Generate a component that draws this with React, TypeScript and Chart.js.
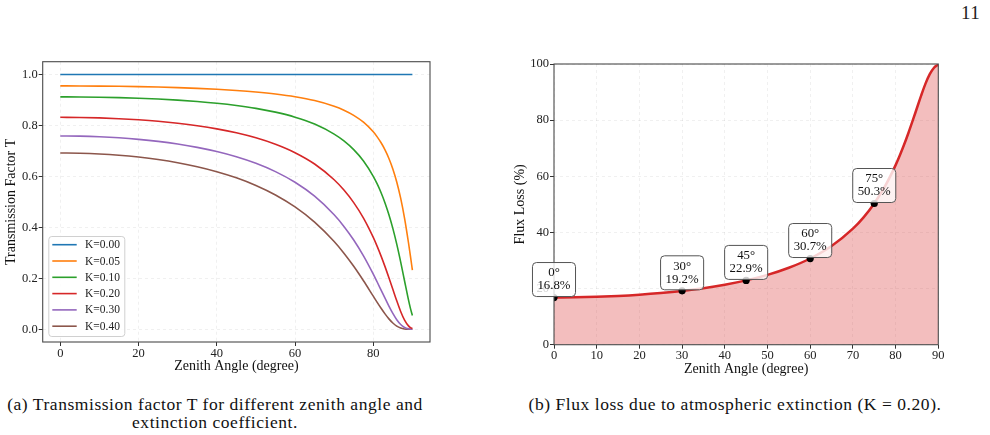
import React, { useEffect, useRef } from "react";
import { Chart, registerables } from "chart.js";

Chart.register(...registerables);

const FONT = '"Liberation Serif", "Times New Roman", Times, serif';

// Zenith angles (degrees) shared by every curve
const zenithDeg = [0, 5, 10, 15, 20, 25, 30, 35, 40, 45, 50, 55, 60, 65, 70, 72.5, 75, 77.5, 80, 81, 82, 83, 84, 85, 86, 87, 88, 89, 89.5, 90];

// Transmission factor T for each extinction coefficient K
const transK000 = [1, 1, 1, 1, 1, 1, 1, 1, 1, 1, 1, 1, 1, 1, 1, 1, 1, 1, 1, 1, 1, 1, 1, 1, 1, 1, 1, 1, 1, 1];
const transK005 = [0.955, 0.9548, 0.9543, 0.9535, 0.9522, 0.9505, 0.9482, 0.9454, 0.9417, 0.937, 0.931, 0.9231, 0.9124, 0.8974, 0.8752, 0.8597, 0.8396, 0.8126, 0.7748, 0.7551, 0.7319, 0.7041, 0.6704, 0.6292, 0.578, 0.5143, 0.4352, 0.3395, 0.2866, 0.2319];
const transK010 = [0.912, 0.9117, 0.9107, 0.9091, 0.9067, 0.9034, 0.8992, 0.8937, 0.8868, 0.878, 0.8668, 0.852, 0.8324, 0.8053, 0.7659, 0.7391, 0.7049, 0.6604, 0.6003, 0.5702, 0.5357, 0.4958, 0.4495, 0.3959, 0.3341, 0.2645, 0.1894, 0.1153, 0.0821, 0.0538];
const transK020 = [0.8318, 0.8312, 0.8294, 0.8264, 0.822, 0.8162, 0.8085, 0.7988, 0.7865, 0.771, 0.7513, 0.726, 0.6929, 0.6485, 0.5867, 0.5462, 0.4969, 0.4361, 0.3603, 0.3251, 0.287, 0.2458, 0.202, 0.1567, 0.1116, 0.0699, 0.0359, 0.0133, 0.0067, 0.0029];
const transK030 = [0.7586, 0.7578, 0.7554, 0.7513, 0.7453, 0.7373, 0.727, 0.7139, 0.6974, 0.6769, 0.6512, 0.6186, 0.5768, 0.5222, 0.4494, 0.4037, 0.3503, 0.288, 0.2163, 0.1854, 0.1537, 0.1219, 0.0908, 0.062, 0.0373, 0.0185, 0.0068, 0.0015, 0.0006, 0.0002];
const transK040 = [0.6918, 0.6909, 0.688, 0.683, 0.6757, 0.6661, 0.6537, 0.638, 0.6185, 0.5944, 0.5644, 0.527, 0.4801, 0.4205, 0.3442, 0.2984, 0.247, 0.1902, 0.1298, 0.1057, 0.0824, 0.0604, 0.0408, 0.0246, 0.0125, 0.0049, 0.0013, 0.0002, 0.0001, 0];

const kLabels = ["K=0.00", "K=0.05", "K=0.10", "K=0.20", "K=0.30", "K=0.40"];
const kColors = ["#1f77b4", "#ff7f0e", "#2ca02c", "#d62728", "#9467bd", "#8c564b"];

// Flux loss (%) for K = 0.20
const fluxLossK020 = [16.82, 16.88, 17.06, 17.36, 17.8, 18.39, 19.15, 20.12, 21.36, 22.91, 24.87, 27.4, 30.71, 35.15, 41.33, 45.38, 50.31, 56.39, 63.97, 67.49, 71.3, 75.42, 79.8, 84.33, 88.84, 93.01, 96.41, 98.67, 99.33, 99.71];

// Highlighted angles and their flux loss
const markerAngles = [0, 30, 45, 60, 75];
const markerLoss = [16.8, 19.2, 22.9, 30.7, 50.3];

// Axis ticks
const transXTicks = [0, 20, 40, 60, 80];
const transYTicks = [0, 0.2, 0.4, 0.6, 0.8, 1.0];
const lossXTicks = [0, 10, 20, 30, 40, 50, 60, 70, 80, 90];
const lossYTicks = [0, 20, 40, 60, 80, 100];

const tickFont = { family: FONT, size: 12.5 };
const titleFont = { family: FONT, size: 14 };
const gridOpts = { color: "rgba(0,0,0,0.08)", lineWidth: 0.8, tickColor: "#333", tickLength: 4, tickWidth: 1 };

// Four-sided axes frame
const framePlugin = {
  id: "frame",
  afterDatasetsDraw(chart: any) {
    const { ctx, chartArea } = chart;
    const { left, top, right, bottom } = chartArea;
    ctx.save();
    ctx.strokeStyle = "#4a4a4a";
    ctx.lineWidth = 1.1;
    ctx.strokeRect(left, top, right - left, bottom - top);
    ctx.restore();
  },
};

// Boxed legend in the lower-left corner of the plot
const legendBoxPlugin = {
  id: "legendBox",
  afterDatasetsDraw(chart: any) {
    const { ctx, chartArea } = chart;
    const sets = chart.data.datasets;
    const boxW = 76;
    const rowH = 16.3;
    const boxH = 100;
    const x0 = chartArea.left + 5.6;
    const y0 = chartArea.bottom - 6 - boxH;
    ctx.save();
    ctx.beginPath();
    ctx.roundRect(x0 + 0.5, y0 + 0.5, boxW, boxH, 3);
    ctx.fillStyle = "rgba(255,255,255,0.85)";
    ctx.fill();
    ctx.strokeStyle = "#d0d0d0";
    ctx.lineWidth = 1;
    ctx.stroke();
    ctx.font = `11.5px ${FONT}`;
    ctx.textBaseline = "middle";
    ctx.fillStyle = "#222";
    sets.forEach((ds: any, i: number) => {
      const cy = y0 + 8.7 + i * rowH;
      ctx.beginPath();
      ctx.strokeStyle = ds.borderColor;
      ctx.lineWidth = 1.6;
      ctx.moveTo(x0 + 4, cy);
      ctx.lineTo(x0 + 28.4, cy);
      ctx.stroke();
      ctx.fillText(ds.label, x0 + 36.7, cy + 0.5);
    });
    ctx.restore();
  },
};

// Labelled boxes above the highlighted points
const pointLabelPlugin = {
  id: "pointLabels",
  afterDatasetsDraw(chart: any) {
    const { ctx, scales } = chart;
    ctx.save();
    ctx.font = `12.8px ${FONT}`;
    markerAngles.forEach((a, i) => {
      const px = scales.x.getPixelForValue(a);
      const py = scales.y.getPixelForValue(markerLoss[i]);
      const l1 = `${a}°`;
      const l2 = `${markerLoss[i].toFixed(1)}%`;
      const w = Math.max(ctx.measureText(l1).width, ctx.measureText(l2).width) + 10;
      const h = 34;
      const bottom = py - 1;
      const top = bottom - h;
      ctx.beginPath();
      ctx.roundRect(px - w / 2, top, w, h, 4);
      ctx.fillStyle = "rgba(255,255,255,0.8)";
      ctx.fill();
      ctx.strokeStyle = "#555";
      ctx.lineWidth = 1;
      ctx.stroke();
      ctx.fillStyle = "#111";
      ctx.textAlign = "center";
      ctx.textBaseline = "middle";
      ctx.fillText(l1, px, top + 10.5);
      ctx.fillText(l2, px, top + 23.5);
    });
    ctx.restore();
  },
};

function TransmissionChart() {
  const ref = useRef<HTMLCanvasElement>(null);
  useEffect(() => {
    const series = [transK000, transK005, transK010, transK020, transK030, transK040];
    const chart = new Chart(ref.current as HTMLCanvasElement, {
      type: "line",
      data: {
        datasets: series.map((vals, k) => ({
          label: kLabels[k],
          data: zenithDeg.map((z, i) => ({ x: z, y: vals[i] })),
          borderColor: kColors[k],
          backgroundColor: kColors[k],
          borderWidth: 1.6,
          pointRadius: 0,
          cubicInterpolationMode: "monotone" as const,
          fill: false,
        })),
      },
      options: {
        animation: false,
        responsive: false,
        layout: { padding: { top: 11.7, right: 10, left: 0, bottom: 0 } },
        plugins: { legend: { display: false }, tooltip: { enabled: false } },
        scales: {
          x: {
            type: "linear",
            min: -4.5,
            max: 94.5,
            afterBuildTicks: (s: any) => {
              s.ticks = transXTicks.map((v) => ({ value: v }));
            },
            afterFit: (s: any) => {
              s.height = 38;
            },
            ticks: { color: "#222", font: tickFont, padding: 0, maxRotation: 0, autoSkip: false },
            grid: gridOpts,
            border: { display: false, dash: [3, 3] },
            title: { display: true, text: "Zenith Angle (degree)", color: "#111", font: titleFont, padding: { top: 0, bottom: 5 } },
          },
          y: {
            type: "linear",
            min: -0.05,
            max: 1.05,
            afterBuildTicks: (s: any) => {
              s.ticks = transYTicks.map((v) => ({ value: v }));
            },
            afterFit: (s: any) => {
              s.width = 42.7;
            },
            ticks: { color: "#222", font: tickFont, padding: 1, autoSkip: false, callback: (v: any) => Number(v).toFixed(1) },
            grid: gridOpts,
            border: { display: false, dash: [3, 3] },
            title: { display: true, text: "Transmission Factor T", color: "#111", font: titleFont, padding: { top: 3, bottom: 0 } },
          },
        },
      },
      plugins: [framePlugin, legendBoxPlugin],
    });
    return () => chart.destroy();
  }, []);
  return <canvas ref={ref} width={440} height={330} style={{ position: "absolute", left: 0, top: 50, width: 440, height: 330 }} />;
}

function FluxLossChart() {
  const ref = useRef<HTMLCanvasElement>(null);
  useEffect(() => {
    const chart = new Chart(ref.current as HTMLCanvasElement, {
      type: "line",
      data: {
        datasets: [
          {
            label: "Marked angles",
            data: markerAngles.map((a, i) => ({ x: a, y: markerLoss[i] })),
            showLine: false,
            pointRadius: 3.6,
            pointBorderWidth: 0,
            pointBackgroundColor: "#000",
            borderColor: "#000",
            clip: 0,
            order: 0,
          },
          {
            label: "Flux loss",
            data: zenithDeg.map((z, i) => ({ x: z, y: fluxLossK020[i] })),
            borderColor: "#d62728",
            backgroundColor: "rgba(214,39,40,0.3)",
            borderWidth: 2.5,
            pointRadius: 0,
            cubicInterpolationMode: "monotone" as const,
            fill: "origin",
            order: 1,
          },
        ],
      },
      options: {
        animation: false,
        responsive: false,
        layout: { padding: { top: 14, right: 11.7, left: 0, bottom: 0 } },
        plugins: { legend: { display: false }, tooltip: { enabled: false } },
        scales: {
          x: {
            type: "linear",
            min: 0,
            max: 90,
            afterBuildTicks: (s: any) => {
              s.ticks = lossXTicks.map((v) => ({ value: v }));
            },
            afterFit: (s: any) => {
              s.height = 35.3;
            },
            ticks: { color: "#222", font: tickFont, padding: 0, maxRotation: 0, autoSkip: false },
            grid: gridOpts,
            border: { display: false, dash: [3, 3] },
            title: { display: true, text: "Zenith Angle (degree)", color: "#111", font: titleFont, padding: { top: 0, bottom: 2.6 } },
          },
          y: {
            type: "linear",
            min: 0,
            max: 100,
            afterBuildTicks: (s: any) => {
              s.ticks = lossYTicks.map((v) => ({ value: v }));
            },
            afterFit: (s: any) => {
              s.width = 59;
            },
            ticks: { color: "#222", font: tickFont, padding: 1, autoSkip: false },
            grid: gridOpts,
            border: { display: false, dash: [3, 3] },
            title: { display: true, text: "Flux Loss (%)", color: "#111", font: titleFont, padding: { top: 17, bottom: 0 } },
          },
        },
      },
      plugins: [framePlugin, pointLabelPlugin],
    });
    return () => chart.destroy();
  }, []);
  return <canvas ref={ref} width={455} height={330} style={{ position: "absolute", left: 495, top: 50, width: 455, height: 330 }} />;
}

const captionStyle: React.CSSProperties = {
  position: "absolute",
  top: 395,
  fontFamily: FONT,
  fontSize: 17.5,
  letterSpacing: "0.55px",
  lineHeight: "18px",
  color: "#111",
  textAlign: "center",
  whiteSpace: "nowrap",
};

export default function App() {
  return (
    <div style={{ position: "absolute", left: 0, top: 0, width: 990, height: 435, background: "#fff", overflow: "hidden" }}>
      <div style={{ position: "absolute", left: 961, top: 2, fontFamily: FONT, fontSize: 19, letterSpacing: "0.5px", color: "#222" }}>11</div>
      <TransmissionChart />
      <FluxLossChart />
      <div style={{ ...captionStyle, left: 0, width: 430 }}>
        (a) Transmission factor T for different zenith angle and
        <br />
        extinction coefficient.
      </div>
      <div style={{ ...captionStyle, left: 520, width: 430 }}>(b) Flux loss due to atmospheric extinction (K = 0.20).</div>
    </div>
  );
}
